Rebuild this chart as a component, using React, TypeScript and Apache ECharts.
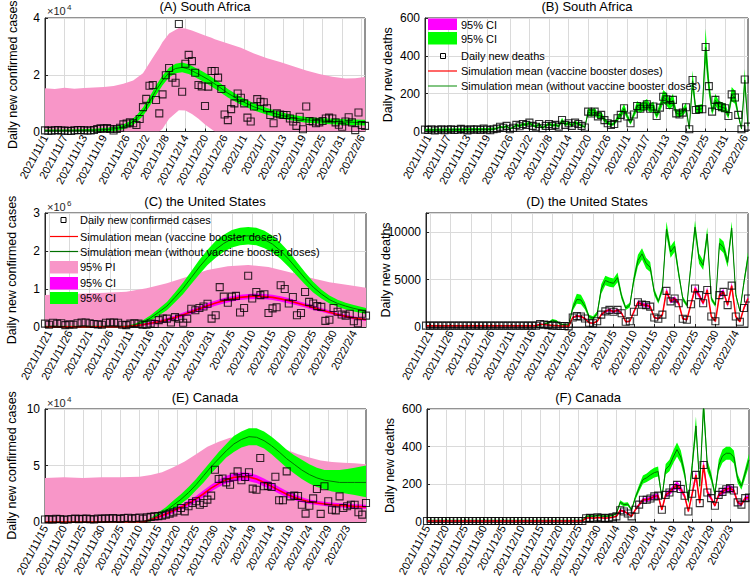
import React, { useEffect, useRef } from 'react';
import * as echarts from 'echarts';

const FONT = "'Liberation Sans', Arial, Helvetica, sans-serif";
const PINK = '#F896C8';
const LIME = '#00FF00';
const MAGENTA = '#FF00FF';
const DKGREEN = '#007000';
const RED = '#FF0000';
const GRIDC = '#DADADA';
const AXC = '#262626';

// ---------- date categories (axis domain) ----------
function dateRange(y: number, m: number, d: number, n: number): string[] {
  const out: string[] = [];
  const t0 = Date.UTC(y, m - 1, d);
  for (let i = 0; i < n; i++) {
    const dt = new Date(t0 + i * 86400000);
    out.push(`${dt.getUTCFullYear()}/${dt.getUTCMonth() + 1}/${dt.getUTCDate()}`);
  }
  return out;
}
const catA = dateRange(2021, 11, 1, 99);
const catB = dateRange(2021, 10, 31, 100);
const catCD = dateRange(2021, 11, 20, 80);
const catEF = dateRange(2021, 11, 15, 86);

// ---------- tick labels ----------
const ticksAB = ['2021/11/1', '2021/11/7', '2021/11/13', '2021/11/19', '2021/11/26', '2021/12/2', '2021/12/8', '2021/12/14', '2021/12/20', '2021/12/26', '2022/1/1', '2022/1/7', '2022/1/13', '2022/1/19', '2022/1/25', '2022/1/31', '2022/2/6'];
const ticksCD = ['2021/11/21', '2021/11/26', '2021/12/1', '2021/12/6', '2021/12/11', '2021/12/16', '2021/12/21', '2021/12/26', '2021/12/31', '2022/1/5', '2022/1/10', '2022/1/15', '2022/1/20', '2022/1/25', '2022/1/30', '2022/2/4'];
const ticksEF = ['2021/11/15', '2021/11/20', '2021/11/25', '2021/11/30', '2021/12/5', '2021/12/10', '2021/12/15', '2021/12/20', '2021/12/25', '2021/12/30', '2022/1/4', '2022/1/9', '2022/1/14', '2022/1/19', '2022/1/24', '2022/1/29', '2022/2/3'];

const yTicksA = [0, 20000, 40000]; const yLabelsA = ['0', '2', '4'];
const yTicksB = [0, 200, 400, 600]; const yLabelsB = ['0', '200', '400', '600'];
const yTicksC = [0, 1000000, 2000000, 3000000]; const yLabelsC = ['0', '1', '2', '3'];
const yTicksD = [0, 5000, 10000]; const yLabelsD = ['0', '5000', '10000'];
const yTicksE = [0, 50000, 100000]; const yLabelsE = ['0', '5', '10'];
const yTicksF = [0, 200, 400, 600]; const yLabelsF = ['0', '200', '400', '600'];

// ---------- (A) South Africa cases ----------
const aObs = [400, 250, 300, 450, 500, 350, 300, 250, 200, 450,
  500, 550, 400, 350, 350, 550, 900, 1100, 1000, 1200,
  900, 350, 900, 1300, 2500, 2800, 3200, 2900, 2300, 4400,
  8600, 11500, 16100, 16400, 11100, 6400, 13100, 19800, 22400, 19000,
  17200, 37900, 14000, 23900, 27000, 24800, 20700, 16400, 15900, 9000,
  15800, 21300, 21300, 19000, 15000, 6000, 4000, 7900, 9900, 13400,
  11900, 9900, 4900, 3500, 8800, 11400, 10500, 10300, 8200, 5800,
  2900, 6400, 6000, 5800, 5800, 4600, 3500, 2000, 5200, 800,
  8800, 3700, 3500, 2900, 3200, 3700, 4600, 4900, 4600, 3200,
  2400, 1700, 3500, 5000, 3200, 500, 6700, 2300, 2000];
// [day, lower, upper]
const aPI = [[0, 0, 15200], [3, 0, 15000], [6, 0, 15400], [9, 0, 15100], [12, 0, 15300], [15, 0, 15500], [18, 0, 15700], [21, 0, 16000], [24, 0, 16800], [27, 0, 18000], [30, 0, 20500], [33, 0, 26000], [35, 0, 29500], [36, 1000, 31500], [38, 4500, 34500], [41, 7500, 36500], [43, 7400, 36300], [45, 6200, 35600], [47, 4500, 34700], [49, 2500, 33800], [51, 800, 33000], [52, 0, 32500], [56, 0, 31000], [60, 0, 29500], [64, 0, 27500], [68, 0, 25800], [72, 0, 24500], [76, 0, 23000], [80, 0, 21500], [84, 0, 20300], [88, 0, 19300], [92, 0, 18700], [95, 0, 18800], [98, 0, 19200]];
// [day, lower, mean, upper]
const aNoBoost = [[0, 0, 300, 700], [5, 0, 300, 700], [10, 0, 350, 800], [15, 0, 450, 950], [20, 100, 800, 1400], [22, 300, 1100, 1800], [24, 800, 1700, 2500], [26, 1800, 2800, 3700], [28, 3200, 4400, 5600], [30, 5500, 7000, 8500], [32, 8800, 10500, 12200], [34, 12800, 14500, 16200], [36, 16300, 18000, 19700], [38, 19100, 20800, 22500], [40, 20500, 22200, 23900], [42, 20900, 22600, 24300], [44, 20300, 22000, 23700], [46, 19100, 20800, 22500], [48, 17900, 19600, 21300], [50, 16600, 18300, 20000], [53, 14400, 16000, 17600], [56, 12000, 13500, 15000], [60, 9400, 10800, 12200], [64, 7400, 8700, 10000], [68, 5900, 7100, 8300], [72, 4700, 5800, 6900], [76, 3800, 4800, 5800], [80, 3100, 4100, 5100], [85, 2700, 3700, 4700], [90, 2400, 3400, 4400], [95, 2200, 3200, 4200], [98, 2100, 3100, 4100]];

// ---------- (B) South Africa deaths ----------
const bObs = [10, 8, 12, 6, 9, 11, 7, 10, 12, 8,
  9, 14, 10, 6, 11, 9, 12, 8, 15, 10,
  7, 12, 15, 25, 20, 30, 12, 20, 35, 28,
  40, 35, 47, 30, 25, 40, 17, 30, 40, 30,
  35, 26, 61, 35, 44, 30, 47, 40, 30, 21,
  105, 95, 105, 80, 88, 60, 44, 35, 40, 70,
  88, 123, 79, 44, 90, 135, 120, 132, 144, 120,
  132, 82, 126, 184, 170, 140, 167, 96, 90, 100,
  128, 12, 272, 114, 118, 118, 447, 240, 105, 167,
  135, 128, 123, 82, 196, 180, 88, 12, 275, 26];
const bNoBoost = [[0, 2, 8, 15], [5, 3, 9, 16], [10, 3, 10, 17], [15, 4, 11, 18], [20, 5, 11, 19], [21, 6, 12, 20],
  [22, 12, 16, 21], [23, 19, 24, 30], [24, 16, 21, 27], [25, 23, 29, 36], [26, 10, 14, 19], [27, 16, 21, 27], [28, 27, 34, 42], [29, 23, 29, 36], [30, 31, 39, 48], [31, 28, 35, 43],
  [32, 37, 46, 56], [33, 25, 31, 39], [34, 20, 26, 33], [35, 31, 39, 48], [36, 13, 18, 24], [37, 24, 30, 37], [38, 32, 40, 49], [39, 25, 31, 38], [40, 28, 35, 43], [41, 21, 27, 34],
  [42, 48, 60, 73], [43, 29, 36, 44], [44, 35, 44, 54], [45, 25, 31, 38], [46, 38, 47, 57], [47, 32, 40, 49], [48, 25, 31, 38], [49, 18, 23, 29], [50, 85, 104, 125], [51, 78, 95, 115],
  [52, 85, 104, 125], [53, 66, 81, 98], [54, 71, 87, 105], [55, 50, 61, 74], [56, 36, 45, 55], [57, 29, 36, 44], [58, 33, 41, 50], [59, 57, 70, 85], [60, 73, 89, 107], [61, 100, 122, 147],
  [62, 65, 80, 97], [63, 36, 45, 55], [64, 74, 90, 109], [65, 110, 134, 161], [66, 99, 121, 146], [67, 108, 132, 159], [68, 117, 143, 172], [69, 99, 121, 146], [70, 107, 131, 158], [71, 68, 83, 100],
  [72, 103, 126, 152], [73, 149, 182, 219], [74, 138, 169, 204], [75, 115, 141, 170], [76, 136, 166, 200], [77, 79, 97, 117], [78, 74, 91, 110], [79, 83, 101, 122], [80, 104, 127, 153], [81, 8, 14, 22],
  [82, 220, 268, 322], [83, 94, 115, 139], [84, 97, 118, 142], [85, 98, 120, 145], [86, 365, 445, 545], [87, 197, 240, 289], [88, 87, 106, 128], [89, 136, 166, 200], [90, 111, 135, 163], [91, 105, 128, 154],
  [92, 101, 123, 148], [93, 68, 83, 100], [94, 160, 195, 235], [95, 147, 179, 216], [96, 73, 89, 107], [97, 8, 14, 22], [98, 223, 272, 330], [99, 20, 28, 37]];

// ---------- (C) United States cases ----------
const cObs = [90000, 60000, 110000, 90000, 100000, 50000, 70000, 60000, 100000, 120000,
  120000, 100000, 80000, 70000, 60000, 110000, 120000, 120000, 110000, 60000,
  50000, 90000, 100000, 90000, 60000, 60000, 90000, 80000, 180000, 220000,
  220000, 120000, 260000, 220000, 110000, 220000, 480000, 440000, 500000, 540000,
  610000, 220000, 310000, 1050000, 800000, 640000, 800000, 820000, 380000, 500000,
  1350000, 750000, 920000, 840000, 860000, 370000, 490000, 520000, 1100000, 1000000,
  620000, 790000, 310000, 370000, 920000, 660000, 620000, 550000, 530000, 160000,
  190000, 500000, 400000, 330000, 300000, 350000, 150000, 100000, 350000, 300000];
const cPI = [[0, 0, 840000], [5, 0, 860000], [10, 0, 880000], [15, 0, 900000], [20, 0, 930000], [25, 0, 1020000], [30, 0, 1150000], [35, 0, 1320000], [40, 0, 1500000], [45, 0, 1600000], [50, 0, 1630000], [55, 0, 1580000], [60, 0, 1450000], [65, 0, 1300000], [70, 0, 1180000], [75, 0, 1100000], [79, 0, 1030000]];
const cNoBoost = [[0, 0, 0, 30000], [10, 0, 0, 30000], [20, 0, 10000, 40000], [22, 20000, 50000, 80000], [24, 70000, 120000, 170000], [26, 170000, 240000, 310000], [28, 300000, 390000, 480000], [30, 440000, 550000, 660000], [32, 650000, 780000, 910000], [34, 870000, 1020000, 1170000], [36, 1130000, 1300000, 1470000], [38, 1390000, 1580000, 1770000], [40, 1630000, 1830000, 2030000], [42, 1820000, 2040000, 2260000], [44, 1980000, 2200000, 2430000], [46, 2090000, 2320000, 2550000], [48, 2150000, 2380000, 2610000], [50, 2170000, 2400000, 2630000], [52, 2150000, 2380000, 2610000], [54, 2070000, 2300000, 2530000], [56, 1960000, 2180000, 2400000], [58, 1790000, 2000000, 2210000], [60, 1580000, 1780000, 1980000], [62, 1350000, 1530000, 1710000], [64, 1120000, 1280000, 1440000], [66, 910000, 1050000, 1190000], [68, 750000, 870000, 990000], [70, 620000, 720000, 830000], [72, 530000, 620000, 720000], [74, 460000, 550000, 640000], [76, 410000, 490000, 580000], [79, 340000, 420000, 500000]];
const cBoost = [[0, 0, 0, 20000], [20, 0, 10000, 30000], [22, 10000, 30000, 50000], [24, 30000, 60000, 90000], [26, 60000, 100000, 140000], [28, 100000, 140000, 180000], [30, 140000, 190000, 240000], [32, 200000, 250000, 300000], [34, 260000, 320000, 380000], [36, 340000, 400000, 460000], [38, 420000, 480000, 540000], [40, 490000, 560000, 630000], [42, 560000, 630000, 700000], [44, 620000, 690000, 760000], [46, 670000, 740000, 810000], [48, 710000, 780000, 850000], [50, 730000, 800000, 870000], [52, 740000, 810000, 880000], [54, 730000, 800000, 870000], [56, 710000, 780000, 850000], [58, 670000, 740000, 810000], [60, 620000, 690000, 760000], [62, 570000, 630000, 690000], [64, 510000, 570000, 630000], [66, 450000, 510000, 570000], [68, 400000, 450000, 500000], [70, 340000, 390000, 440000], [72, 290000, 330000, 370000], [74, 240000, 280000, 320000], [76, 200000, 240000, 280000], [79, 160000, 190000, 220000]];

// ---------- (D) United States deaths ----------
const dObs = [150, 150, 150, 150, 150, 150, 150, 150, 150, 150,
  150, 150, 150, 150, 150, 150, 150, 150, 150, 150,
  150, 150, 150, 150, 150, 150, 150, 150, 300, 250,
  200, 150, 150, 100, 100, 70, 1000, 1150, 1100, 900,
  450, 400, 600, 1300, 1650, 1800, 1600, 1800, 1450, 550,
  600, 1600, 2600, 2350, 2300, 2150, 1000, 870, 1300, 3800,
  2700, 3000, 2500, 870, 760, 2400, 4050, 3350, 2500, 3900,
  1100, 600, 3350, 3700, 2300, 4350, 1100, 550, 2000, 3000];
const dBoost = [[0, 60, 130, 200], [27, 60, 130, 200], [28, 230, 300, 370], [29, 190, 250, 310], [30, 150, 200, 250], [31, 110, 150, 190], [32, 110, 150, 190], [33, 70, 100, 130], [34, 70, 100, 130], [35, 40, 70, 100],
  [36, 900, 1000, 1100], [37, 1040, 1150, 1260], [38, 990, 1100, 1210], [39, 800, 900, 1000], [40, 390, 450, 510], [41, 340, 400, 460], [42, 530, 600, 670], [43, 1180, 1300, 1420], [44, 1500, 1650, 1800], [45, 1640, 1800, 1960],
  [46, 1460, 1600, 1740], [47, 1640, 1800, 1960], [48, 1320, 1450, 1580], [49, 480, 550, 620], [50, 530, 600, 670], [51, 1460, 1600, 1740], [52, 2380, 2600, 2820], [53, 2150, 2350, 2550], [54, 2100, 2300, 2500], [55, 1960, 2150, 2340],
  [56, 900, 1000, 1100], [57, 780, 870, 960], [58, 1180, 1300, 1420], [59, 3480, 3800, 4120], [60, 2470, 2700, 2930], [61, 2750, 3000, 3250], [62, 2280, 2500, 2720], [63, 780, 870, 960], [64, 680, 760, 840], [65, 2200, 2400, 2600],
  [66, 3720, 4050, 4380], [67, 3070, 3350, 3630], [68, 2280, 2500, 2720], [69, 3580, 3900, 4220], [70, 990, 1100, 1210], [71, 530, 600, 670], [72, 3070, 3350, 3630], [73, 3390, 3700, 4010], [74, 2100, 2300, 2500], [75, 3990, 4350, 4710],
  [76, 990, 1100, 1210], [77, 480, 550, 620], [78, 1820, 2000, 2180], [79, 2750, 3000, 3250]];
const dNoBoost = [[0, 0, 100, 220], [27, 0, 100, 220], [28, 150, 200, 260], [29, 230, 300, 380], [30, 350, 450, 560], [31, 560, 700, 850], [32, 480, 600, 740], [33, 230, 300, 380], [34, 190, 250, 320], [35, 150, 200, 260],
  [36, 1700, 2000, 2400], [37, 2450, 2900, 3500], [38, 2400, 2850, 3400], [39, 1850, 2200, 2600], [40, 900, 1100, 1300], [41, 780, 950, 1120], [42, 1180, 1400, 1650], [43, 3500, 4000, 4500], [44, 4400, 4900, 5400], [45, 4250, 4700, 5200],
  [46, 4150, 4600, 5100], [47, 4700, 5200, 5750], [48, 2900, 3200, 3550], [49, 1800, 2000, 2250], [50, 2050, 2300, 2550], [51, 4550, 5000, 5500], [52, 6400, 7000, 7600], [53, 7100, 7700, 8300], [54, 6150, 6700, 7300], [55, 5800, 6300, 6850],
  [56, 3350, 3700, 4050], [57, 2450, 2700, 2950], [58, 3650, 4000, 4400], [59, 9600, 10300, 11100], [60, 7300, 7900, 8500], [61, 7900, 8500, 9100], [62, 5150, 5600, 6050], [63, 2750, 3000, 3250], [64, 2100, 2300, 2500], [65, 6000, 6500, 7000],
  [66, 9800, 10500, 11200], [67, 6650, 7200, 7750], [68, 6000, 6500, 7000], [69, 9100, 9800, 10500], [70, 2750, 3000, 3250], [71, 2100, 2300, 2500], [72, 8200, 8800, 9400], [73, 7800, 8400, 9000], [74, 6300, 6800, 7300], [75, 9700, 10400, 11100],
  [76, 3150, 3400, 3650], [77, 1550, 1700, 1850], [78, 4350, 4700, 5050], [79, 6900, 7400, 7900]];

// ---------- (E) Canada cases ----------
const eObs = [2200, 2500, 2000, 2800, 2500, 2000, 2200, 2600, 3000, 2500,
  2800, 3000, 2500, 2200, 3000, 2800, 3200, 3000, 3500, 3000,
  2800, 3500, 3800, 3000, 3500, 4000, 3000, 4100, 4500, 5000,
  5200, 5600, 6500, 7400, 8500, 10000, 12400, 9400, 13900, 16800,
  18300, 15300, 16800, 19800, 23300, 46300, 38000, 38500, 35100, 33000,
  40000, 44800, 36900, 39800, 44000, 29500, 28500, 56600, 31600, 32000,
  31000, 40000, 19200, 19200, 44800, 22700, 23300, 23000, 15300, 7400,
  14400, 20900, 29200, 7200, 31600, 18300, 10900, 10300, 22700, 12400,
  14000, 15300, 15300, 8600, 6500, 16800];
const ePI = [[0, 0, 39000], [5, 0, 39500], [10, 0, 39000], [15, 0, 39500], [20, 0, 39500], [25, 0, 40000], [28, 0, 41500], [31, 0, 44000], [34, 0, 48500], [37, 0, 53500], [40, 0, 60000], [43, 0, 66500], [46, 0, 71000], [49, 0, 74500], [52, 0, 75500], [55, 0, 75000], [58, 0, 71000], [61, 0, 67500], [64, 0, 64000], [67, 0, 60000], [70, 0, 57000], [73, 0, 54500], [76, 0, 53000], [79, 0, 52500], [82, 0, 52000], [85, 0, 51000]];
const eNoBoost = [[0, 0, 0, 500], [26, 0, 0, 500], [28, 500, 2000, 3500], [30, 3500, 6000, 8500], [32, 7000, 10000, 13000], [34, 11000, 15000, 19000], [36, 16000, 20000, 24500], [38, 21000, 26000, 31000], [40, 28000, 33000, 38000], [42, 35000, 41000, 46000], [44, 43000, 49000, 54000], [46, 50000, 56000, 62000], [48, 57000, 63000, 69000], [50, 62000, 69000, 76000], [52, 66000, 73000, 80000], [54, 68000, 75500, 83000], [56, 68000, 75000, 83000], [58, 65000, 72000, 80000], [60, 60000, 67500, 75500], [62, 54000, 62000, 70000], [64, 48000, 56000, 64000], [66, 43000, 51000, 59000], [68, 38000, 46000, 55000], [70, 34000, 42000, 51000], [72, 31000, 39000, 48000], [74, 29000, 37000, 46000], [76, 27000, 36000, 46000], [78, 26000, 35000, 46000], [80, 25000, 35000, 47000], [82, 24000, 35000, 48000], [85, 22000, 35000, 50000]];
const eBoost = [[0, 0, 0, 300], [26, 0, 0, 300], [28, 1000, 2000, 3000], [30, 3000, 4500, 6000], [32, 5000, 7000, 9000], [34, 8000, 10000, 12000], [36, 11000, 13000, 15000], [38, 14000, 16500, 19000], [40, 18000, 20500, 23000], [42, 22000, 25000, 28000], [44, 27000, 30000, 33000], [46, 31000, 34000, 37500], [48, 34000, 37500, 41000], [50, 36000, 39500, 43000], [52, 36500, 40200, 44000], [54, 36000, 39800, 43500], [56, 34500, 38000, 41500], [58, 31500, 35000, 38500], [60, 28500, 31500, 35000], [62, 25000, 28000, 31000], [64, 22000, 24500, 27500], [66, 19500, 22000, 24500], [68, 17500, 19700, 22000], [70, 16000, 18000, 20000], [72, 15000, 16800, 18800], [74, 14200, 16000, 18000], [76, 13500, 15300, 17200], [78, 13000, 14700, 16600], [80, 12500, 14300, 16200], [82, 12000, 13800, 15800], [85, 11500, 13300, 15200]];

// ---------- (F) Canada deaths ----------
const fObs = [5, 5, 5, 5, 5, 5, 5, 5, 5, 5,
  5, 5, 5, 5, 5, 5, 5, 5, 5, 5,
  5, 5, 5, 5, 5, 5, 5, 5, 5, 5,
  5, 5, 5, 5, 5, 5, 5, 5, 5, 5,
  5, 5, 20, 22, 20, 25, 22, 20, 22, 25,
  30, 62, 56, 45, 30, 65, 92, 118, 118, 125,
  136, 140, 65, 144, 157, 180, 197, 175, 139, 56,
  150, 250, 100, 303, 157, 127, 86, 144, 160, 174,
  180, 167, 104, 92, 127, 130];
const fBoost = [[0, 2, 5, 8], [41, 2, 5, 8], [42, 18, 21, 24], [43, 19, 22, 25], [44, 18, 20, 23], [45, 21, 24, 27], [46, 19, 22, 25], [47, 18, 20, 23], [48, 19, 22, 25], [49, 22, 25, 28], [50, 26, 30, 34],
  [51, 55, 62, 69], [52, 50, 56, 62], [53, 40, 45, 50], [54, 26, 30, 34], [55, 58, 65, 72], [56, 83, 92, 101], [57, 107, 118, 129], [58, 107, 118, 129], [59, 113, 125, 137], [60, 123, 136, 149],
  [61, 127, 140, 153], [62, 58, 65, 72], [63, 130, 144, 158], [64, 142, 157, 172], [65, 163, 180, 197], [66, 178, 197, 216], [67, 158, 175, 192], [68, 126, 139, 152], [69, 50, 56, 62], [70, 136, 150, 164],
  [71, 226, 250, 274], [72, 90, 100, 110], [73, 274, 303, 332], [74, 142, 157, 172], [75, 115, 127, 139], [76, 78, 86, 94], [77, 130, 144, 158], [78, 145, 160, 175], [79, 157, 174, 191], [80, 163, 180, 197],
  [81, 151, 167, 183], [82, 94, 104, 114], [83, 83, 92, 101], [84, 115, 127, 139], [85, 118, 130, 142]];
const fNoBoost = [[0, 0, 6, 12], [41, 0, 6, 12], [42, 26, 30, 34], [43, 28, 32, 36], [44, 26, 30, 34], [45, 31, 35, 39], [46, 28, 32, 36], [47, 26, 30, 34], [48, 28, 32, 36], [49, 31, 35, 39], [50, 40, 45, 50],
  [51, 94, 105, 116], [52, 82, 92, 102], [53, 85, 95, 105], [54, 58, 65, 72], [55, 117, 130, 143], [56, 162, 180, 198], [57, 203, 225, 247], [58, 212, 235, 258], [59, 225, 250, 275], [60, 236, 262, 288],
  [61, 241, 268, 295], [62, 114, 127, 140], [63, 252, 280, 308], [64, 270, 300, 330], [65, 312, 345, 380], [66, 348, 385, 422], [67, 312, 345, 380], [68, 234, 260, 286], [69, 95, 110, 125], [70, 270, 300, 330],
  [71, 460, 510, 560], [72, 171, 190, 209], [73, 560, 620, 680], [74, 270, 300, 330], [75, 216, 240, 264], [76, 135, 150, 165], [77, 270, 300, 330], [78, 315, 350, 385], [79, 330, 365, 400], [80, 330, 365, 400],
  [81, 310, 345, 380], [82, 207, 230, 253], [83, 171, 190, 209], [84, 234, 260, 286], [85, 297, 330, 363]];

// ---------- builders ----------
function band(g: number, id: string, pts: number[][], lo: number, hi: number, color: string, z: number) {
  return [
    {
      type: 'line', id: id + '_lo', xAxisIndex: g, yAxisIndex: g, stack: id,
      data: pts.map((p) => [p[0], p[lo]]), symbol: 'none', showSymbol: false,
      lineStyle: { width: 0, opacity: 0 }, silent: true, z,
    },
    {
      type: 'line', id: id + '_w', xAxisIndex: g, yAxisIndex: g, stack: id,
      data: pts.map((p) => [p[0], p[hi] - p[lo]]), symbol: 'none', showSymbol: false,
      lineStyle: { width: 0, opacity: 0 }, areaStyle: { color, opacity: 1 }, silent: true, z,
    },
  ];
}
function meanLine(g: number, pts: number[][], col: number, color: string, width: number, z: number) {
  return {
    type: 'line', xAxisIndex: g, yAxisIndex: g, data: pts.map((p) => [p[0], p[col]]),
    symbol: 'none', showSymbol: false, lineStyle: { color, width }, silent: true, z,
  };
}
function obs(g: number, arr: number[]) {
  return {
    type: 'scatter', xAxisIndex: g, yAxisIndex: g, data: arr.map((v, i) => [i, v]),
    symbol: 'rect', symbolSize: 7, silent: true, z: 20,
    itemStyle: { color: 'rgba(0,0,0,0)', borderColor: '#000', borderWidth: 1.1 },
  };
}
function xAx(g: number, cats: string[], ticks: string[]) {
  const s = new Set(ticks);
  const iv = (_i: number, v: string) => s.has(v);
  return {
    type: 'category', gridIndex: g, data: cats, boundaryGap: false,
    axisLine: { show: true, lineStyle: { color: AXC, width: 1 } },
    axisTick: { show: true, inside: true, length: 3, interval: iv, lineStyle: { color: AXC } },
    axisLabel: { interval: iv, rotate: 62, fontSize: 11, color: '#000', fontFamily: FONT, margin: 4 },
    splitLine: { show: true, interval: iv, lineStyle: { color: GRIDC, width: 1 } },
  };
}
function yAx(g: number, max: number, interval: number, ticks: number[], labels: string[], name: string, nameGap: number) {
  return {
    type: 'value', gridIndex: g, min: 0, max, interval,
    name, nameLocation: 'middle', nameGap, nameMoveOverlap: false,
    nameTextStyle: { fontSize: 12.5, color: '#000', fontFamily: FONT },
    axisLine: { show: true, lineStyle: { color: AXC, width: 1 } },
    axisTick: { show: true, inside: true, length: 3, lineStyle: { color: AXC } },
    axisLabel: {
      fontSize: 12, color: '#000', fontFamily: FONT, margin: 5,
      formatter: (v: number) => { const i = ticks.indexOf(v); return i >= 0 ? labels[i] : ''; },
    },
    splitLine: { show: true, lineStyle: { color: GRIDC, width: 1 } },
  };
}

const gridBoxes = [
  { left: 45, top: 18, width: 320, height: 113.5 },
  { left: 425, top: 18, width: 323, height: 113.5 },
  { left: 45, top: 213, width: 321, height: 114 },
  { left: 426, top: 213, width: 322, height: 114 },
  { left: 45, top: 409, width: 321, height: 113 },
  { left: 427, top: 409, width: 322, height: 113 },
];

const titles = [
  ['(A) South Africa', 205, 0], ['(B) South Africa', 587, 0],
  ['(C) the United States', 205, 195], ['(D) the United States', 587, 195],
  ['(E) Canada', 205, 391], ['(F) Canada', 588, 391],
];

function txt(x: number, y: number, text: string, size = 11, color = '#000') {
  return {
    type: 'text', x, y, z: 100, silent: true,
    style: { text, fontSize: size, fontFamily: FONT, fill: color, align: 'left', textAlign: 'left', verticalAlign: 'middle', textVerticalAlign: 'middle' },
  };
}
function rectG(x: number, y: number, w: number, h: number, fill: string, stroke?: string) {
  return { type: 'rect', z: 100, silent: true, shape: { x, y, width: w, height: h }, style: { fill, stroke: stroke || 'none', lineWidth: 1 } };
}
function lineG(x1: number, x2: number, y: number, color: string) {
  return { type: 'line', z: 100, silent: true, shape: { x1, y1: y, x2, y2: y }, style: { stroke: color, lineWidth: 1.2 } };
}

function buildOption() {
  const series: any[] = [
    // A
    ...band(0, 'aPI', aPI, 1, 2, PINK, 1),
    ...band(0, 'aNB', aNoBoost, 1, 3, LIME, 2),
    meanLine(0, aNoBoost, 2, DKGREEN, 1, 3),
    obs(0, aObs),
    // B
    ...band(1, 'bNB', bNoBoost, 1, 3, LIME, 2),
    meanLine(1, bNoBoost, 2, DKGREEN, 1, 3),
    obs(1, bObs),
    // C
    ...band(2, 'cPI', cPI, 1, 2, PINK, 1),
    ...band(2, 'cNB', cNoBoost, 1, 3, LIME, 2),
    ...band(2, 'cB', cBoost, 1, 3, MAGENTA, 3),
    meanLine(2, cNoBoost, 2, DKGREEN, 1, 4),
    meanLine(2, cBoost, 2, RED, 1.6, 5),
    obs(2, cObs),
    // D
    ...band(3, 'dNB', dNoBoost, 1, 3, LIME, 2),
    meanLine(3, dNoBoost, 2, DKGREEN, 1, 3),
    ...band(3, 'dB', dBoost, 1, 3, MAGENTA, 4),
    meanLine(3, dBoost, 2, RED, 1.5, 5),
    obs(3, dObs),
    // E
    ...band(4, 'ePI', ePI, 1, 2, PINK, 1),
    ...band(4, 'eNB', eNoBoost, 1, 3, LIME, 2),
    ...band(4, 'eB', eBoost, 1, 3, MAGENTA, 3),
    meanLine(4, eNoBoost, 2, DKGREEN, 1, 4),
    meanLine(4, eBoost, 2, RED, 1.6, 5),
    obs(4, eObs),
    // F
    ...band(5, 'fNB', fNoBoost, 1, 3, LIME, 2),
    meanLine(5, fNoBoost, 2, DKGREEN, 1, 3),
    ...band(5, 'fB', fBoost, 1, 3, MAGENTA, 4),
    meanLine(5, fBoost, 2, RED, 1.5, 5),
    obs(5, fObs),
  ];

  const graphic: any[] = [
    // exponent labels
    txt(47, 11, '×10', 11, '#262626'), txt(67, 7, '4', 8, '#262626'),
    txt(47, 207, '×10', 11, '#262626'), txt(67, 203, '6', 8, '#262626'),
    txt(47, 403, '×10', 11, '#262626'), txt(67, 399, '4', 8, '#262626'),
    // legend B
    rectG(428, 18.5, 29, 11.5, MAGENTA), txt(461, 25, '95% CI'),
    rectG(428, 32, 29, 12.5, LIME), txt(461, 38.5, '95% CI'),
    rectG(440.5, 53.5, 5, 5, 'none', '#000'), txt(461, 56, 'Daily new deaths'),
    lineG(428, 457, 71, RED), txt(461, 71, 'Simulation mean (vaccine booster doses)'),
    lineG(428, 457, 86, '#2E9E2E'), txt(461, 86, 'Simulation mean (without vaccine booster doses)'),
    // legend C
    rectG(61, 217.5, 5, 5, 'none', '#000'), txt(80, 220, 'Daily new confirmed cases'),
    lineG(50, 78, 236.5, RED), txt(80, 236.5, 'Simulation mean (vaccine booster doses)'),
    lineG(50, 78, 251.5, DKGREEN), txt(80, 251.5, 'Simulation mean (without vaccine booster doses)'),
    rectG(50, 261, 28, 12.5, PINK), txt(80, 267, '95% PI'),
    rectG(50, 277, 28, 12.5, MAGENTA), txt(80, 283, '95% CI'),
    rectG(50, 292, 28, 12, LIME), txt(80, 298, '95% CI'),
  ];

  return {
    animation: false,
    backgroundColor: '#ffffff',
    textStyle: { fontFamily: FONT },
    title: titles.map((t) => ({
      text: t[0] as string, left: t[1] as number, top: t[2] as number, textAlign: 'center', padding: 0,
      textStyle: { fontSize: 13, fontWeight: 'normal', color: '#000', fontFamily: FONT },
    })),
    grid: gridBoxes.map((b) => ({
      ...b, show: true, borderColor: AXC, borderWidth: 1, backgroundColor: 'rgba(0,0,0,0)',
      containLabel: false, outerBoundsMode: 'none',
    })),
    xAxis: [
      xAx(0, catA, ticksAB), xAx(1, catB, ticksAB), xAx(2, catCD, ticksCD),
      xAx(3, catCD, ticksCD), xAx(4, catEF, ticksEF), xAx(5, catEF, ticksEF),
    ],
    yAxis: [
      yAx(0, 40000, 20000, yTicksA, yLabelsA, 'Daily new confirmed cases', 26),
      yAx(1, 600, 200, yTicksB, yLabelsB, 'Daily new deaths', 31),
      yAx(2, 3000000, 1000000, yTicksC, yLabelsC, 'Daily new confirmed cases', 27),
      yAx(3, 12000, 5000, yTicksD, yLabelsD, 'Daily new deaths', 34),
      yAx(4, 100000, 50000, yTicksE, yLabelsE, 'Daily new confirmed cases', 27),
      yAx(5, 600, 200, yTicksF, yLabelsF, 'Daily new deaths', 31),
    ],
    series,
    graphic,
  };
}

export default function App() {
  const ref = useRef<HTMLDivElement>(null);
  useEffect(() => {
    if (!ref.current) return;
    const chart = echarts.init(ref.current, null, { renderer: 'svg' });
    chart.setOption(buildOption() as any);
    return () => { chart.dispose(); };
  }, []);
  return <div ref={ref} style={{ position: 'absolute', left: 0, top: 0, width: 750, height: 583, background: '#fff' }} />;
}
